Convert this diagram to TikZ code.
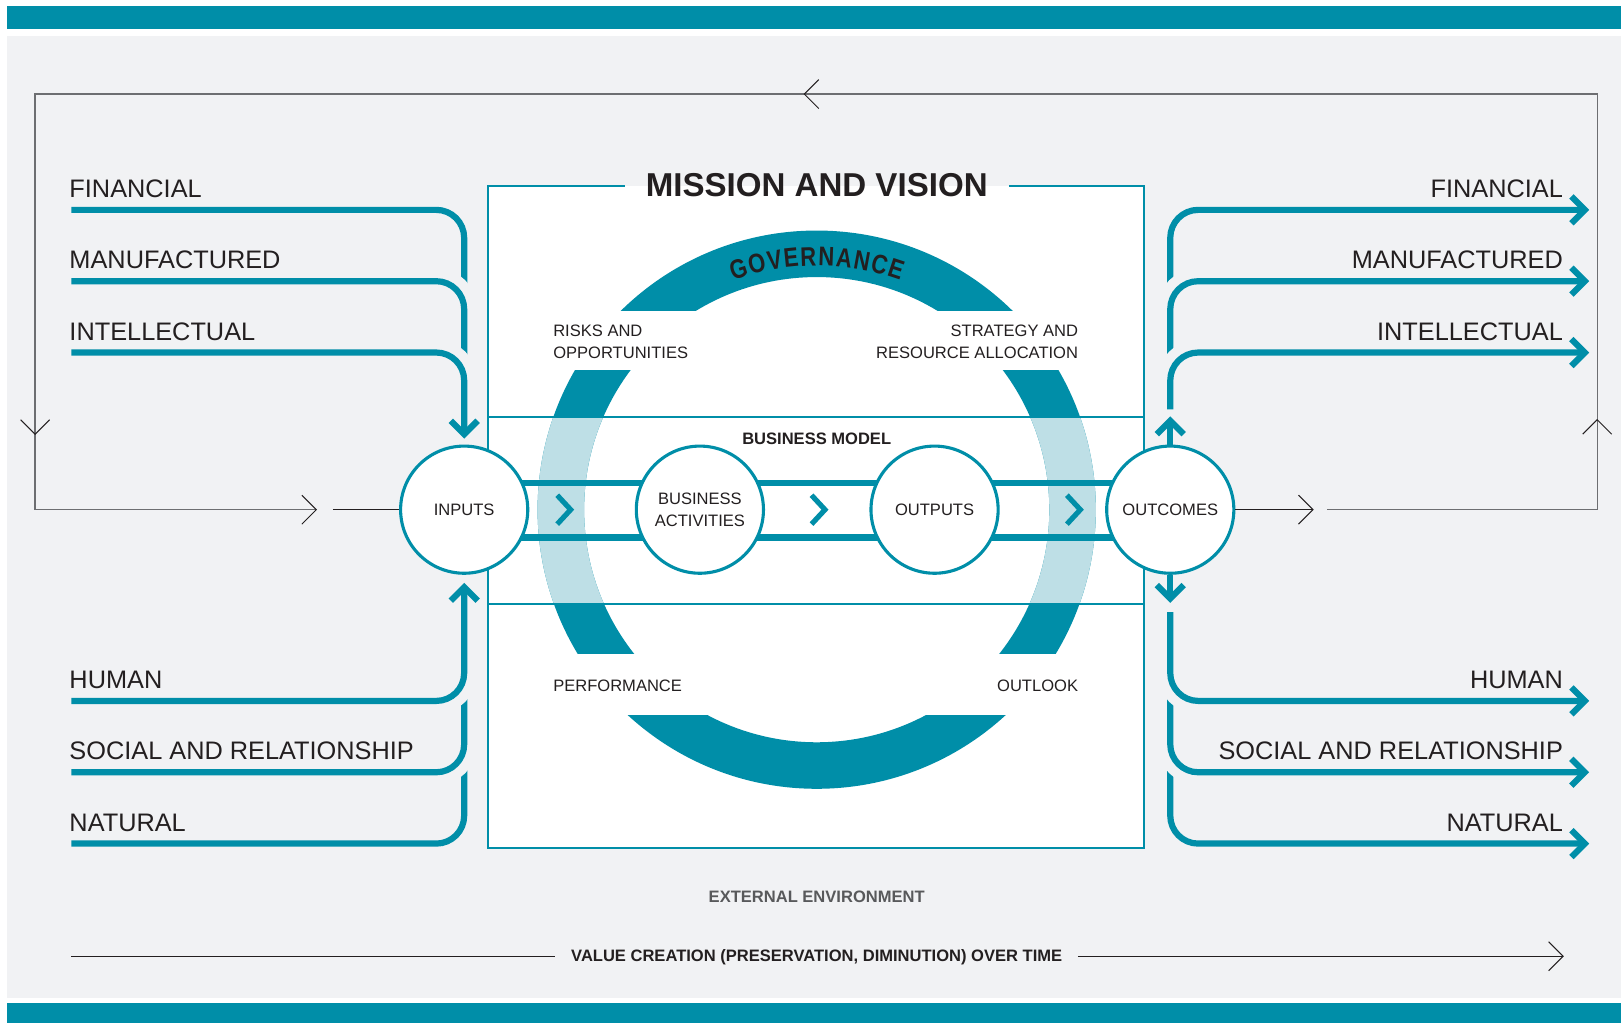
\documentclass[tikz,border=0pt]{standalone}
\usepackage{fontspec}
\setmainfont{Liberation Sans}
\usetikzlibrary{calc}
\definecolor{brand}{RGB}{0,142,168}
\definecolor{lightbrand}{RGB}{190,223,230}
\definecolor{panel}{RGB}{241,242,244}
\definecolor{ink}{RGB}{35,31,32}
\definecolor{loopgrey}{RGB}{109,110,113}
\definecolor{envgrey}{RGB}{88,89,91}
\pgfdeclarelayer{bg}
\pgfdeclarelayer{mid}
\pgfsetlayers{bg,mid,main}
\begin{document}
\begin{tikzpicture}[x=1pt,y=-1pt,
  capline/.style={draw=brand, line width=6pt},
  halo/.style={preaction={draw=panel, line width=25pt}},
  flowline/.style={draw=brand, line width=6pt},
  bandline/.style={draw=brand, line width=2pt},
  loopline/.style={draw=loopgrey, line width=1.3pt},
  leadline/.style={draw=ink, line width=1.5pt},
  chevT/.pic={\draw[brand, line width=6pt] (-13,-13) -- (0,0) -- (-13,13);},
  chevS/.pic={\draw[brand, line width=5pt] (-13,-14) -- (0,0) -- (-13,14);},
  chevL/.pic={\draw[ink, line width=1pt] (-14,-14) -- (0,0) -- (-14,14);},
  circ/.style={circle, draw=brand, line width=3pt, fill=white, minimum size=123pt, inner sep=0pt, align=center, text=ink, font=\fontsize{16}{21}\selectfont},
  caplabel/.style={inner sep=0pt, text=ink, font=\fontsize{24.5}{25}\selectfont},
  small/.style={inner sep=0pt, text=ink, font=\fontsize{16}{21}\selectfont},
  smallbold/.style={inner sep=0pt, text=ink, font=\bfseries\fontsize{16}{21}\selectfont},
  govletter/.style={inner sep=0pt, text=ink, font=\bfseries\fontsize{26}{26}\selectfont},
]
\useasboundingbox (0,0) rectangle (1568,990);
\begin{pgfonlayer}{bg}
  \fill[white] (0,0) rectangle (1568,990);
  \fill[brand] (7,6) rectangle (1568,28);
  \fill[panel] (7,35) rectangle (1568,965);
  \fill[brand] (7,970) rectangle (1568,990);
  \fill[white] (472,180) rectangle (1107,820);
  \begin{scope}
    \clip (500,200) rectangle (1080,300);
    \fill[brand, even odd rule] (790,493) circle[radius=270] (790,493) circle[radius=225];
  \end{scope}
  \begin{scope}
    \clip (500,358) rectangle (1080,632);
    \fill[brand, even odd rule] (790,493) circle[radius=270] (790,493) circle[radius=225];
  \end{scope}
  \begin{scope}
    \clip (500,403) rectangle (1080,584);
    \fill[lightbrand, even odd rule] (790,493) circle[radius=270] (790,493) circle[radius=225];
  \end{scope}
  \begin{scope}
    \clip (500,692) rectangle (1080,790);
    \fill[brand, even odd rule] (790,493) circle[radius=270] (790,493) circle[radius=225];
  \end{scope}
  \draw[bandline] (472,403) -- (1107,403);
  \draw[bandline] (472,584) -- (1107,584);
\end{pgfonlayer}

% title and box border
\node[inner xsep=20pt, inner ysep=0pt, text=ink, font=\bfseries\fontsize{32}{32}\selectfont] (title) at (790,179) {MISSION AND VISION};
\coordinate (boxTL) at (472,180);
\coordinate (boxBL) at (472,820);
\coordinate (boxBR) at (1107,820);
\coordinate (boxTR) at (1107,180);
\begin{pgfonlayer}{bg}
  \draw[brand, line width=2pt] (boxTL -| title.west) -- (boxTL) -- (boxBL) -- (boxBR) -- (boxTR) -- (boxTR -| title.east);
\end{pgfonlayer}

% governance text, letter by letter along the arc
\foreach \ch/\th/\rot [count=\i] in {G/-108.0/18.0, O/-103.7/13.7, V/-99.6/9.6, E/-95.8/5.8, R/-91.9/1.9, N/-87.8/-2.2, A/-83.75/-6.25, N/-79.7/-10.3, C/-75.6/-14.4, E/-71.7/-18.3}
  \node[govletter, rotate=\rot] (gov\i) at ($(790,493)+(\th:245)$) {\scalebox{0.82}[1]{\ch}};

% circles
\node[circ] (in) at (449,493) {INPUTS};
\node[circ] (ba) at (677,493) {BUSINESS\\ACTIVITIES};
\node[circ] (op) at (904,493) {OUTPUTS};
\node[circ] (oc) at (1132,493) {OUTCOMES};

\begin{pgfonlayer}{mid}
  \draw[flowline] ([yshift=26pt]in.center) -- ([yshift=26pt]ba.center);
  \draw[flowline] ([yshift=26pt]ba.center) -- ([yshift=26pt]op.center);
  \draw[flowline] ([yshift=26pt]op.center) -- ([yshift=26pt]oc.center);
  \draw[flowline] ([yshift=-27pt]in.center) -- ([yshift=-27pt]ba.center);
  \draw[flowline] ([yshift=-27pt]ba.center) -- ([yshift=-27pt]op.center);
  \draw[flowline] ([yshift=-27pt]op.center) -- ([yshift=-27pt]oc.center);
\end{pgfonlayer}
\pic at (552,493) {chevS};
\pic at (798,493) {chevS};
\pic at (1045,493) {chevS};

% capitals, left top
\draw[capline] (69,203) -- (422,203) arc[start angle=-90,end angle=0,radius=27] -- (449,300);
\draw[capline,halo] (69,272) -- (422,272) arc[start angle=-90,end angle=0,radius=27] -- (449,369);
\draw[capline,halo] (69,341) -- (422,341) arc[start angle=-90,end angle=0,radius=27] -- ([yshift=10pt]in.north);
% left bottom
\draw[capline] (69,816) -- (422,816) arc[start angle=90,end angle=0,radius=27] -- (449,729);
\draw[capline,halo] (69,747) -- (422,747) arc[start angle=90,end angle=0,radius=27] -- (449,660);
\draw[capline,halo] (69,678) -- (422,678) arc[start angle=90,end angle=0,radius=27] -- ([yshift=-12pt]in.south);
\pic[rotate=-90] at ([yshift=10pt]in.north) {chevT};
\pic[rotate=90] at ([yshift=-12pt]in.south) {chevT};

% right top
\draw[capline] (1132,300) -- (1132,230) arc[start angle=180,end angle=270,radius=27] -- (1533,203);
\draw[capline,halo] (1132,369) -- (1132,299) arc[start angle=180,end angle=270,radius=27] -- (1533,272);
\draw[capline,halo] (1132,396) -- (1132,368) arc[start angle=180,end angle=270,radius=27] -- (1533,341);
% right bottom
\draw[capline] (1132,729) -- (1132,789) arc[start angle=180,end angle=90,radius=27] -- (1533,816);
\draw[capline,halo] (1132,660) -- (1132,720) arc[start angle=180,end angle=90,radius=27] -- (1533,747);
\draw[capline,halo] (1132,592) -- (1132,651) arc[start angle=180,end angle=90,radius=27] -- (1533,678);
\foreach \yy in {203,272,341,678,747,816} { \pic at (1533,\yy) {chevT}; }
\draw[capline] (oc.north) -- ([yshift=23pt]oc.north);
\pic[rotate=90] at ([yshift=23pt]oc.north) {chevT};
\draw[capline] (oc.south) -- ([yshift=-23pt]oc.south);
\pic[rotate=-90] at ([yshift=-23pt]oc.south) {chevT};

% feedback loop
\coordinate (lpA) at (1284,493);
\coordinate (lpB) at (1545,493);
\coordinate (lpC) at (1545,91);
\coordinate (lpD) at (34,91);
\coordinate (lpE) at (34,493);
\coordinate (lpF) at (306,493);
\draw[loopline] (lpA) -- (lpB) -- (lpC) -- (lpD) -- (lpE) -- (lpF);
\pic[rotate=90] at (1545,406) {chevL};
\pic[rotate=180] at (778,91) {chevL};
\pic[rotate=-90] at (34,420) {chevL};
\pic at (lpF) {chevL};
\coordinate (inLead) at (322,493);
\draw[leadline] (inLead) -- (in.west);
\coordinate (ocTip) at (1270,493);
\draw[leadline] (oc.east) -- (ocTip);
\pic at (ocTip) {chevL};

% labels
\node[caplabel, anchor=base west] (lFin) at (67,191) {FINANCIAL};
\node[caplabel, anchor=base west] (lMan) at (67,260) {MANUFACTURED};
\node[caplabel, anchor=base west] (lInt) at (67,329) {INTELLECTUAL};
\node[caplabel, anchor=base west] (lHum) at (67,666) {HUMAN};
\node[caplabel, anchor=base west] (lSoc) at (67,735) {SOCIAL AND RELATIONSHIP};
\node[caplabel, anchor=base west] (lNat) at (67,804) {NATURAL};
\node[caplabel, anchor=base east] (rFin) at (1512,191) {FINANCIAL};
\node[caplabel, anchor=base east] (rMan) at (1512,260) {MANUFACTURED};
\node[caplabel, anchor=base east] (rInt) at (1512,329) {INTELLECTUAL};
\node[caplabel, anchor=base east] (rHum) at (1512,666) {HUMAN};
\node[caplabel, anchor=base east] (rSoc) at (1512,735) {SOCIAL AND RELATIONSHIP};
\node[caplabel, anchor=base east] (rNat) at (1512,804) {NATURAL};

\node[small, anchor=west, align=left] (risks) at (535,330.5) {RISKS AND\\OPPORTUNITIES};
\node[small, anchor=east, align=right] (strat) at (1043,330.5) {STRATEGY AND\\RESOURCE ALLOCATION};
\node[small, anchor=west] (perf) at (535,663) {PERFORMANCE};
\node[small, anchor=east] (outl) at (1043,663) {OUTLOOK};
\node[smallbold] (bm) at (790,424) {BUSINESS MODEL};
\node[smallbold, text=envgrey] (env) at (790,867) {EXTERNAL ENVIRONMENT};

% value creation timeline
\node[smallbold, inner xsep=15pt] (vc) at (790,926) {VALUE CREATION (PRESERVATION, DIMINUTION) OVER TIME};
\coordinate (vcL) at (69,925);
\coordinate (vcR) at (1512,925);
\draw[ink, line width=1.2pt] (vcL) -- (vcL -| vc.west);
\draw[ink, line width=1.2pt] (vcR -| vc.east) -- (vcR);
\pic at (vcR) {chevL};
\end{tikzpicture}
\end{document}
